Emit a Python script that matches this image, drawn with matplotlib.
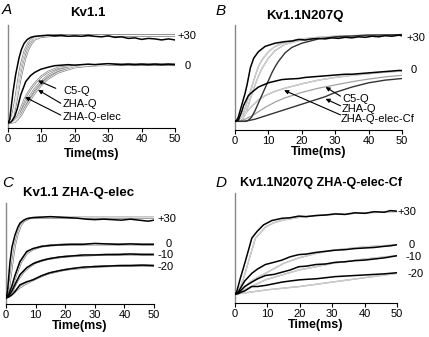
import matplotlib
matplotlib.use("Agg")
import matplotlib.pyplot as plt

plt.rcParams['font.family'] = ['Liberation Sans', 'DejaVu Sans']

W, H = 429, 337

# ---------------- Panel A: Kv1.1 ----------------
tA30 = [0, 0.5, 0.8, 1.5, 2.3, 3.3, 4.0, 4.8, 5.8, 6.8, 8, 10, 12, 14, 16, 18, 20, 22, 24, 26, 28, 30,
        32, 34, 36, 38, 40, 42, 44, 46, 48, 50]
yA30 = [0.05, 0.08, 0.16, 0.35, 0.52, 0.68, 0.76, 0.82, 0.86, 0.88, 0.89, 0.895, 0.90, 0.895, 0.90, 0.89,
        0.895, 0.89, 0.90, 0.89, 0.885, 0.895, 0.88, 0.885, 0.87, 0.875, 0.86, 0.87, 0.865, 0.855, 0.865, 0.855]
tAf30 = [0, 0.5, 1, 1.5, 2, 2.5, 3, 3.5, 4, 5, 6, 7, 8, 10, 15, 20, 30, 40, 50]
fA30_c5q = [0.05, 0.06, 0.09, 0.15, 0.24, 0.34, 0.45, 0.55, 0.63, 0.75, 0.82, 0.86, 0.88, 0.895, 0.90, 0.90, 0.90, 0.90, 0.90]
fA30_zhaq = [0.05, 0.06, 0.08, 0.13, 0.21, 0.30, 0.40, 0.50, 0.58, 0.71, 0.79, 0.845, 0.87, 0.89, 0.90, 0.90, 0.90, 0.90, 0.90]
fA30_elec = [0.05, 0.055, 0.07, 0.11, 0.18, 0.26, 0.35, 0.44, 0.52, 0.66, 0.76, 0.82, 0.86, 0.885, 0.90, 0.90, 0.90, 0.90, 0.90]

tA0 = [0, 1, 2, 2.8, 3.8, 5.3, 6.8, 8, 9.8, 12, 14, 16, 18, 20, 22, 24, 26, 28, 30, 32, 34, 36, 38, 40,
       42, 44, 46, 48, 50]
yA0 = [0.05, 0.06, 0.11, 0.19, 0.32, 0.45, 0.51, 0.54, 0.57, 0.59, 0.605, 0.61, 0.615, 0.61, 0.615, 0.62,
       0.615, 0.62, 0.625, 0.62, 0.615, 0.62, 0.615, 0.62, 0.615, 0.62, 0.615, 0.62, 0.615]
tAf0 = [0, 2, 3, 4, 5, 6, 7, 8, 10, 12, 15, 20, 25, 30, 40, 50]
fA0_c5q = [0.05, 0.07, 0.12, 0.20, 0.28, 0.34, 0.39, 0.43, 0.50, 0.545, 0.585, 0.605, 0.612, 0.615, 0.615, 0.615]
fA0_zhaq = [0.05, 0.06, 0.10, 0.16, 0.22, 0.28, 0.33, 0.38, 0.45, 0.51, 0.56, 0.60, 0.61, 0.615, 0.615, 0.615]
fA0_elec = [0.05, 0.06, 0.09, 0.13, 0.19, 0.24, 0.29, 0.34, 0.42, 0.48, 0.54, 0.59, 0.607, 0.613, 0.615, 0.615]

# ---------------- Panel B: Kv1.1N207Q ----------------
tB30 = [0, 0.5, 1, 2, 3, 3.6, 4.6, 5.6, 7, 9, 12, 15, 17, 19, 21, 23, 25, 27, 29, 31, 33, 35, 37, 39,
        41, 43, 45, 47, 49, 50]
yB30 = [0.10, 0.11, 0.14, 0.25, 0.36, 0.44, 0.60, 0.69, 0.75, 0.80, 0.83, 0.845, 0.85, 0.865, 0.86, 0.87,
        0.875, 0.87, 0.88, 0.875, 0.885, 0.88, 0.89, 0.885, 0.895, 0.89, 0.90, 0.895, 0.905, 0.90]
tBf30 = [0, 1, 2, 3, 4, 5, 6, 7, 8, 10, 12, 15, 20, 25, 30, 40, 50]
fB30_c5q = [0.10, 0.10, 0.13, 0.22, 0.32, 0.42, 0.52, 0.61, 0.67, 0.75, 0.80, 0.84, 0.87, 0.885, 0.895, 0.905, 0.91]
fB30_cf = [0.10, 0.10, 0.11, 0.16, 0.25, 0.35, 0.44, 0.52, 0.59, 0.69, 0.76, 0.82, 0.86, 0.88, 0.89, 0.905, 0.91]
tBs30 = [0, 3, 4, 5, 6, 7, 8, 9, 10, 11, 12, 13, 15, 17, 20, 25, 30, 40, 50]
fB30_zhaq = [0.10, 0.10, 0.11, 0.14, 0.20, 0.27, 0.34, 0.41, 0.48, 0.55, 0.61, 0.66, 0.74, 0.79, 0.83, 0.87, 0.89, 0.905, 0.91]

tB0 = [0, 1, 2, 2.6, 4, 5, 7, 10, 12, 14, 16, 19, 21, 23, 25, 27, 29, 31, 33, 35, 37, 39, 41, 43, 45,
       47, 49, 50]
yB0 = [0.10, 0.11, 0.19, 0.25, 0.34, 0.37, 0.42, 0.46, 0.475, 0.49, 0.495, 0.50, 0.51, 0.515, 0.52, 0.525,
       0.53, 0.535, 0.54, 0.54, 0.545, 0.55, 0.555, 0.56, 0.565, 0.57, 0.575, 0.575]
tBf0 = [0, 1, 2, 3, 5, 7, 9, 12, 15, 20, 25, 30, 35, 40, 45, 50]
fB0_cf = [0.10, 0.10, 0.13, 0.17, 0.24, 0.30, 0.34, 0.38, 0.41, 0.45, 0.485, 0.51, 0.53, 0.545, 0.56, 0.57]
fB0_c5q = [0.10, 0.10, 0.11, 0.12, 0.15, 0.19, 0.23, 0.28, 0.32, 0.37, 0.41, 0.44, 0.47, 0.495, 0.515, 0.53]
tBs0 = [0, 3, 6, 9, 12, 15, 19, 22, 25, 27, 30, 35, 40, 45, 50]
fB0_zhaq = [0.10, 0.10, 0.12, 0.15, 0.18, 0.21, 0.25, 0.28, 0.31, 0.33, 0.37, 0.42, 0.46, 0.485, 0.50]

# ---------------- Panel C: Kv1.1 ZHA-Q-elec ----------------
tC30 = [0, 0.5, 1.35, 2, 3, 4, 4.7, 6, 7, 9, 12, 15, 18, 21, 24, 27, 30, 33, 36, 39, 42, 45, 48, 50]
yC30 = [0.06, 0.12, 0.42, 0.56, 0.68, 0.76, 0.80, 0.83, 0.845, 0.855, 0.86, 0.865, 0.86, 0.855, 0.85, 0.84,
        0.835, 0.84, 0.835, 0.83, 0.84, 0.83, 0.82, 0.83]
tCf30 = [0, 1, 2, 3, 4, 5, 6, 8, 10, 20, 30, 40, 50]
fC30 = [0.06, 0.15, 0.38, 0.58, 0.70, 0.78, 0.82, 0.85, 0.855, 0.855, 0.855, 0.855, 0.855]

tCd = [0, 1, 2, 3, 4.7, 7, 9.2, 12, 14.9, 18, 22, 26, 30, 34, 38, 42, 46, 50]
yC0 = [0.06, 0.10, 0.18, 0.28, 0.42, 0.52, 0.55, 0.57, 0.58, 0.585, 0.59, 0.59, 0.60, 0.595, 0.59, 0.595, 0.59, 0.59]
yCm10 = [0.06, 0.08, 0.13, 0.19, 0.29, 0.36, 0.40, 0.43, 0.45, 0.465, 0.475, 0.485, 0.485, 0.49, 0.49, 0.495, 0.49, 0.49]
yCm20 = [0.06, 0.07, 0.09, 0.12, 0.19, 0.22, 0.24, 0.28, 0.31, 0.33, 0.35, 0.365, 0.37, 0.375, 0.38, 0.38, 0.385, 0.38]
tCf0 = [0, 1, 2, 3, 5, 7, 9, 12, 15, 20, 30, 50]
fC0 = [0.06, 0.09, 0.16, 0.25, 0.41, 0.50, 0.54, 0.57, 0.58, 0.59, 0.59, 0.59]
tCfm = [0, 2, 4, 6, 8, 10, 14, 20, 30, 40, 50]
fCm10 = [0.06, 0.12, 0.24, 0.32, 0.37, 0.41, 0.445, 0.47, 0.485, 0.49, 0.49]
fCm20 = [0.06, 0.10, 0.15, 0.19, 0.22, 0.25, 0.30, 0.34, 0.37, 0.38, 0.38]

# ---------------- Panel D: Kv1.1N207Q ZHA-Q-elec-Cf ----------------
tD30 = [0, 0.5, 1.6, 3.2, 5.2, 6.8, 8.8, 11.4, 14.5, 17, 19.7, 22, 25, 28, 31, 34, 37, 40, 43, 46, 48, 50]
yD30 = [0.08, 0.10, 0.22, 0.38, 0.59, 0.65, 0.71, 0.75, 0.77, 0.775, 0.79, 0.785, 0.795, 0.80, 0.81, 0.805,
        0.82, 0.815, 0.83, 0.825, 0.84, 0.835]
tDf30 = [0, 1, 2.6, 4.2, 6.3, 9.4, 12, 15, 20, 25, 30, 40, 50]
fD30 = [0.08, 0.10, 0.22, 0.38, 0.59, 0.69, 0.73, 0.755, 0.78, 0.795, 0.805, 0.82, 0.83]

tDd = [0, 1, 2, 3, 5.2, 7, 9.4, 12, 14.5, 17, 19.7, 22, 25, 28, 31, 34, 37, 40, 43, 46, 48, 50]
yD0 = [0.08, 0.10, 0.15, 0.20, 0.27, 0.31, 0.35, 0.37, 0.39, 0.42, 0.44, 0.445, 0.46, 0.47, 0.48, 0.485,
       0.495, 0.50, 0.505, 0.515, 0.52, 0.53]
yDm10 = [0.08, 0.09, 0.12, 0.15, 0.19, 0.22, 0.25, 0.26, 0.28, 0.30, 0.33, 0.335, 0.35, 0.355, 0.37, 0.375,
         0.385, 0.39, 0.40, 0.41, 0.42, 0.43]
yDm20 = [0.08, 0.085, 0.10, 0.11, 0.15, 0.15, 0.16, 0.175, 0.19, 0.20, 0.21, 0.215, 0.22, 0.23, 0.24, 0.245,
         0.25, 0.255, 0.26, 0.265, 0.27, 0.275]
tDf0 = [0, 2, 5, 9.4, 15, 19.7, 25, 30, 40, 50]
fD0 = [0.08, 0.12, 0.20, 0.27, 0.36, 0.41, 0.45, 0.48, 0.51, 0.53]
tDfm10 = [0, 5, 9.4, 15, 19.7, 25, 30, 40, 50]
fDm10 = [0.08, 0.15, 0.21, 0.26, 0.30, 0.33, 0.36, 0.40, 0.43]
tDfm20 = [0, 10, 20, 30, 40, 50]
fDm20 = [0.08, 0.12, 0.15, 0.19, 0.23, 0.27]

xticks = [0, 10, 20, 30, 40, 50]

fig = plt.figure(figsize=(W / 100, H / 100), dpi=100)


def add_ax(left, right, bottom, top, ylim):
    ax = fig.add_axes([left / W, 1 - bottom / H, (right - left) / W, (bottom - top) / H])
    ax.set_xlim(0, 50)
    ax.set_ylim(*ylim)
    ax.set_xticks(xticks)
    ax.set_yticks([])
    for s in ['top', 'right']:
        ax.spines[s].set_visible(False)
    ax.spines['left'].set_color('#888888')
    ax.spines['left'].set_linewidth(1.0)
    ax.spines['bottom'].set_linewidth(0.8)
    ax.tick_params(axis='x', direction='out', length=3, width=0.8, labelsize=8, pad=1.5)
    ax.patch.set_alpha(0)
    return ax


def ftext(x, y, s, **kw):
    fig.text(x / W, 1 - y / H, s, **kw)


def fit_double(ax, t, y, outer='#7a7a7a', lw=1.5):
    ax.plot(t, y, color=outer, lw=lw, solid_capstyle='round', zorder=2)
    ax.plot(t, y, color='white', lw=lw * 0.35, zorder=2.1)


def data(ax, t, y, lw=1.1):
    ax.plot(t, y, color='black', lw=lw, zorder=3)


arrow = dict(arrowstyle='-|>', color='black', lw=0.8, mutation_scale=6, shrinkA=0, shrinkB=0)

# Panel A
axA = add_ax(8, 175, 128, 25, (0, 1))
for f in (fA30_elec, fA30_zhaq, fA30_c5q):
    fit_double(axA, tAf30, f)
for f in (fA0_elec, fA0_zhaq, fA0_c5q):
    fit_double(axA, tAf0, f)
data(axA, tA30, yA30)
data(axA, tA0, yA0)
axA.annotate('', xy=(9.0, 0.46), xytext=(14.3, 0.385), arrowprops=arrow)
axA.annotate('', xy=(9.0, 0.37), xytext=(15.8, 0.24), arrowprops=arrow)
axA.annotate('', xy=(5.1, 0.30), xytext=(15.8, 0.125), arrowprops=arrow)
axA.set_xlabel('Time(ms)', fontsize=9, fontweight='bold', labelpad=3)
ftext(63, 91, 'C5-Q', fontsize=8, va='center')
ftext(63, 104, 'ZHA-Q', fontsize=8, va='center')
ftext(63, 117, 'ZHA-Q-elec', fontsize=8, va='center')
ftext(177, 36, '+30', fontsize=8, va='center')
ftext(185, 66, '0', fontsize=8, va='center')
ftext(88, 13, 'Kv1.1', fontsize=9.5, fontweight='bold', ha='center', va='center')
ftext(2, 10, 'A', fontsize=11, fontstyle='italic', va='center')

# Panel B
axB = add_ax(235, 402, 130, 25, (0.019, 1.0))
fit_double(axB, tBf30, fB30_c5q, outer='#9a9a9a', lw=1.0)
fit_double(axB, tBf30, fB30_cf, outer='#9a9a9a', lw=1.0)
axB.plot(tBs30, fB30_zhaq, color='#333333', lw=1.0, zorder=2.5)
fit_double(axB, tBf0, fB0_cf, outer='#9a9a9a', lw=1.0)
axB.plot(tBf0, fB0_c5q, color='#a0a0a0', lw=0.9, zorder=2)
axB.plot(tBs0, fB0_zhaq, color='#333333', lw=1.0, zorder=2.5)
data(axB, tB30, yB30)
data(axB, tB0, yB0)
axB.annotate('', xy=(27.1, 0.42), xytext=(31.6, 0.335), arrowprops=arrow)
axB.annotate('', xy=(27.1, 0.31), xytext=(31.6, 0.245), arrowprops=arrow)
axB.annotate('', xy=(14.7, 0.39), xytext=(31.6, 0.16), arrowprops=arrow)
axB.set_xlabel('Time(ms)', fontsize=9, fontweight='bold', labelpad=0)
ftext(342, 99, 'C5-Q', fontsize=8, va='center')
ftext(342, 109, 'ZHA-Q', fontsize=8, va='center')
ftext(341, 119, 'ZHA-Q-elec-Cf', fontsize=8, va='center')
ftext(406, 38, '+30', fontsize=8, va='center')
ftext(411, 70, '0', fontsize=8, va='center')
ftext(305, 16, 'Kv1.1N207Q', fontsize=9.5, fontweight='bold', ha='center', va='center')
ftext(216, 11, 'B', fontsize=11, fontstyle='italic', va='center')

# Panel C
axC = add_ax(6, 154, 304, 203, (0, 1))
fit_double(axC, tCf30, fC30)
fit_double(axC, tCf0, fC0)
fit_double(axC, tCfm, fCm10)
fit_double(axC, tCfm, fCm20)
data(axC, tC30, yC30)
data(axC, tCd, yC0)
data(axC, tCd, yCm10)
data(axC, tCd, yCm20)
axC.set_xlabel('Time(ms)', fontsize=9, fontweight='bold', labelpad=0)
ftext(157, 219, '+30', fontsize=8, va='center')
ftext(166, 244, '0', fontsize=8, va='center')
ftext(157, 255, '-10', fontsize=8, va='center')
ftext(157, 267, '-20', fontsize=8, va='center')
ftext(79, 193, 'Kv1.1 ZHA-Q-elec', fontsize=9.5, fontweight='bold', ha='center', va='center')
ftext(2, 183, 'C', fontsize=11, fontstyle='italic', va='center')

# Panel D
axD = add_ax(235, 397, 303, 193, (0, 1))
for tt, ff in ((tDf30, fD30), (tDf0, fD0), (tDfm10, fDm10), (tDfm20, fDm20)):
    fit_double(axD, tt, ff, outer='#9a9a9a', lw=1.0)
data(axD, tD30, yD30)
data(axD, tDd, yD0)
data(axD, tDd, yDm10)
data(axD, tDd, yDm20)
axD.set_xlabel('Time(ms)', fontsize=9, fontweight='bold', labelpad=0)
ftext(397, 212, '+30', fontsize=8, va='center')
ftext(409, 245, '0', fontsize=8, va='center')
ftext(406, 257, '-10', fontsize=8, va='center')
ftext(407, 274, '-20', fontsize=8, va='center')
ftext(321, 183, 'Kv1.1N207Q ZHA-Q-elec-Cf', fontsize=9, fontweight='bold', ha='center', va='center')
ftext(216, 183, 'D', fontsize=11, fontstyle='italic', va='center')

fig.savefig('out.png', dpi=100)
